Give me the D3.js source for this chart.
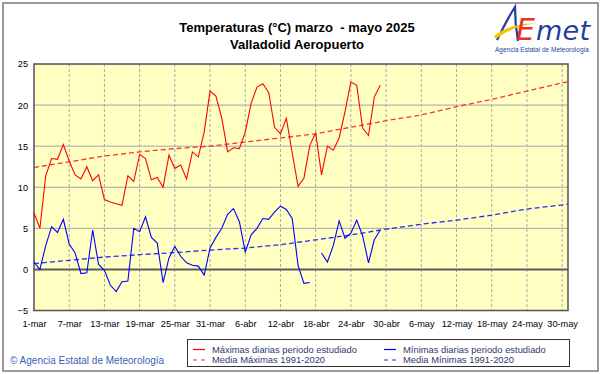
<!DOCTYPE html>
<html>
<head>
<meta charset="utf-8">
<script src="https://cdn.jsdelivr.net/npm/d3@7"></script>
<style>
  html, body { margin: 0; padding: 0; background: #fff; }
  svg { display: block; font-family: "Liberation Sans", Arial, sans-serif; }
</style>
</head>
<body>
<svg id="chart" width="601" height="374"></svg>
<script>
// ---------- DATA ----------
const startDate = "2025-03-01";
const tickDays = [0, 6, 12, 18, 24, 30, 36, 42, 48, 54, 60, 66, 72, 78, 84, 90];
const tickLabels = ["1-mar", "7-mar", "13-mar", "19-mar", "25-mar", "31-mar", "6-abr", "12-abr",
  "18-abr", "24-abr", "30-abr", "6-may", "12-may", "18-may", "24-may", "30-may"];
const yTicks = [-5, 0, 5, 10, 15, 20, 25];

// Daily maxima, 1-mar .. 29-abr
const maxDaily = [6.9, 5.0, 11.4, 13.5, 13.4, 15.2, 13.2, 11.5, 11.0, 12.5,
  10.8, 11.5, 8.5, 8.2, 8.0, 7.8, 11.4, 10.7, 14.0, 13.5,
  10.9, 11.2, 10.0, 13.9, 12.3, 12.7, 11.0, 14.3, 13.7, 16.7,
  21.7, 21.1, 18.4, 14.3, 14.8, 14.7, 16.7, 20.2, 22.2, 22.6,
  21.5, 17.3, 16.5, 18.4, 14.2, 10.1, 11.1, 15.1, 16.6, 11.5,
  15.0, 14.5, 16.0, 19.2, 22.8, 22.4, 17.2, 16.3, 21.0, 22.4];

// Daily minima, 1-mar .. 29-abr (null = missing)
const minDaily = [0.9, 0.0, 2.9, 5.2, 4.5, 6.1, 3.1, 2.0, -0.5, -0.4,
  4.8, 0.6, -0.1, -1.9, -2.7, -1.5, -1.4, 5.0, 4.6, 6.4,
  3.9, 3.2, -1.6, 1.4, 2.8, 1.6, 0.8, 0.5, 0.4, -0.7,
  2.6, 3.9, 5.0, 6.7, 7.4, 5.8, 2.1, 4.2, 5.0, 6.2,
  6.1, 7.0, 7.7, 7.3, 6.2, 0.5, -1.7, -1.6, null, 2.0,
  0.9, 2.9, 5.9, 3.8, 4.4, 6.0, 4.1, 0.8, 3.6, 4.8];

// Climatological means 1991-2020 (read at these days)
const meanDays = [0, 6, 12, 18, 24, 30, 36, 42, 48, 54, 60, 66, 72, 78, 84, 90, 91];
const meanMax = [12.4, 13.1, 13.8, 14.3, 14.7, 15.0, 15.5, 16.0, 16.5, 17.3, 18.1, 18.8, 19.8, 20.7, 21.7, 22.7, 22.85];
const meanMin = [0.7, 1.1, 1.5, 1.8, 2.05, 2.35, 2.6, 3.0, 3.6, 4.2, 4.9, 5.5, 6.0, 6.6, 7.35, 7.85, 7.95];

const legendLabels = ["Máximas diarias periodo estudiado", "Media Máximas 1991-2020",
  "Mínimas diarias periodo estudiado", "Media Mínimas 1991-2020"];

// ---------- LAYOUT ----------
const svg = d3.select("#chart");
const W = 601, H = 374;
const plot = { left: 34, right: 568, top: 64, bottom: 310.5 };

const x = d3.scaleLinear().domain([0, 91]).range([plot.left, plot.right]);
const y = d3.scaleLinear().domain([-5, 25]).range([plot.bottom, plot.top]);

// outer frame
svg.append("rect").attr("x", 0).attr("y", 0).attr("width", W).attr("height", H).attr("fill", "#fff");
svg.append("rect").attr("x", 3).attr("y", 3).attr("width", 595).attr("height", 368)
  .attr("fill", "none").attr("stroke", "#7a7a7a").attr("stroke-width", 1.5);

// titles
svg.append("text").attr("x", 297).attr("y", 32).attr("text-anchor", "middle")
  .attr("font-size", 13).attr("font-weight", "bold").attr("fill", "#000")
  .text("Temperaturas (°C) marzo  - mayo 2025").attr("xml:space", "preserve").style("white-space", "pre");
svg.append("text").attr("x", 297).attr("y", 49).attr("text-anchor", "middle")
  .attr("font-size", 13).attr("font-weight", "bold").attr("fill", "#000")
  .text("Valladolid Aeropuerto");

// logo
const logo = svg.append("g");
logo.append("path").attr("d", "M497,40 C503,28 509,16 515,7 C515,18 516,30 518,41")
  .attr("fill", "none").attr("stroke", "#1f3f9f").attr("stroke-width", 2.2);
logo.append("path").attr("d", "M494,36 C505,27 522,22 540,24 C530,23 512,27 496,39 Z")
  .attr("fill", "#f5c400");
logo.append("text").attr("x", 516).attr("y", 40).attr("font-size", 30).attr("font-style", "italic")
  .attr("font-family", "'DejaVu Sans', sans-serif").attr("fill", "#e8312a").text("E");
logo.append("text").attr("x", 536).attr("y", 40).attr("font-size", 27).attr("font-style", "italic")
  .attr("font-family", "'DejaVu Sans', sans-serif").attr("fill", "#1f3f9f").attr("textLength", 54).text("met");
logo.append("text").attr("x", 542).attr("y", 52).attr("text-anchor", "middle").attr("font-size", 6.5)
  .attr("fill", "#1f3f9f").text("Agencia Estatal de Meteorología");

// plot background
svg.append("rect").attr("x", plot.left).attr("y", plot.top)
  .attr("width", plot.right - plot.left).attr("height", plot.bottom - plot.top)
  .attr("fill", "#ffffc2");

// horizontal grid
svg.append("g").selectAll("line").data(yTicks.filter(v => v !== 0 && v !== -5 && v !== 25)).join("line")
  .attr("x1", plot.left).attr("x2", plot.right)
  .attr("y1", d => y(d)).attr("y2", d => y(d))
  .attr("stroke", "#a3a3b3").attr("stroke-width", 1);

// vertical grid (dashed)
svg.append("g").selectAll("line").data(tickDays.filter(d => d !== 0)).join("line")
  .attr("x1", d => x(d)).attr("x2", d => x(d))
  .attr("y1", plot.top).attr("y2", plot.bottom)
  .attr("stroke", "#aaaaaa").attr("stroke-width", 1).attr("stroke-dasharray", "3,2");

// zero line
svg.append("line").attr("x1", plot.left).attr("x2", plot.right)
  .attr("y1", y(0)).attr("y2", y(0)).attr("stroke", "#5a5a5a").attr("stroke-width", 2);

// plot border
svg.append("rect").attr("x", plot.left).attr("y", plot.top)
  .attr("width", plot.right - plot.left).attr("height", plot.bottom - plot.top)
  .attr("fill", "none").attr("stroke", "#5a5a5a").attr("stroke-width", 1.6);

// axes
const xAxis = d3.axisBottom(x).tickValues(tickDays)
  .tickFormat((d, i) => tickLabels[i]).tickSize(0).tickPadding(10);
const gx = svg.append("g").attr("transform", `translate(0,${plot.bottom})`).call(xAxis);
gx.select(".domain").remove();
gx.selectAll("text").attr("font-size", 9.2).attr("fill", "#000")
  .attr("font-family", "'Liberation Sans', Arial, sans-serif");

const yAxis = d3.axisLeft(y).tickValues(yTicks).tickSize(0).tickPadding(6);
const gy = svg.append("g").attr("transform", `translate(${plot.left},0)`).call(yAxis);
gy.select(".domain").remove();
gy.selectAll("text").attr("font-size", 9.2).attr("fill", "#000")
  .attr("font-family", "'Liberation Sans', Arial, sans-serif");

// lines
const dailyLine = d3.line().defined(d => d.v !== null).x(d => x(d.d)).y(d => y(d.v));
const maxData = maxDaily.map((v, i) => ({ d: i, v }));
const minData = minDaily.map((v, i) => ({ d: i, v }));
const meanMaxData = meanDays.map((d, i) => ({ d, v: meanMax[i] }));
const meanMinData = meanDays.map((d, i) => ({ d, v: meanMin[i] }));

svg.append("path").datum(meanMaxData).attr("d", dailyLine)
  .attr("fill", "none").attr("stroke", "#ff3030").attr("stroke-width", 1.3).attr("stroke-dasharray", "5,3");
svg.append("path").datum(meanMinData).attr("d", dailyLine)
  .attr("fill", "none").attr("stroke", "#2a2aff").attr("stroke-width", 1.3).attr("stroke-dasharray", "5,3");
svg.append("path").datum(maxData).attr("d", dailyLine)
  .attr("fill", "none").attr("stroke", "#ff0000").attr("stroke-width", 1.1);
svg.append("path").datum(minData).attr("d", dailyLine)
  .attr("fill", "none").attr("stroke", "#0000ff").attr("stroke-width", 1.1);

// copyright
svg.append("text").attr("x", 10).attr("y", 364).attr("font-size", 10).attr("fill", "#3a5fb0")
  .text("© Agencia Estatal de Meteorología");

// legend
const lg = svg.append("g");
lg.append("rect").attr("x", 187.5).attr("y", 339.5).attr("width", 382).attr("height", 27)
  .attr("fill", "#fff").attr("stroke", "#333").attr("stroke-width", 1);
const legendItems = [
  { label: legendLabels[0], color: "#ff0000", dash: null, lx: 193, ly: 349.5 },
  { label: legendLabels[1], color: "#ff3030", dash: "4,4", lx: 193, ly: 360 },
  { label: legendLabels[2], color: "#0000ff", dash: null, lx: 384, ly: 349.5 },
  { label: legendLabels[3], color: "#2a2aff", dash: "4,4", lx: 384, ly: 360 }
];
legendItems.forEach(it => {
  lg.append("line").attr("x1", it.lx).attr("x2", it.lx + 12).attr("y1", it.ly).attr("y2", it.ly)
    .attr("stroke", it.color).attr("stroke-width", 1.2).attr("stroke-dasharray", it.dash);
  lg.append("text").attr("x", it.lx + 19).attr("y", it.ly + 3.3).attr("font-size", 9.4)
    .attr("fill", "#2f3a6e").text(it.label);
});
</script>
</body>
</html>
